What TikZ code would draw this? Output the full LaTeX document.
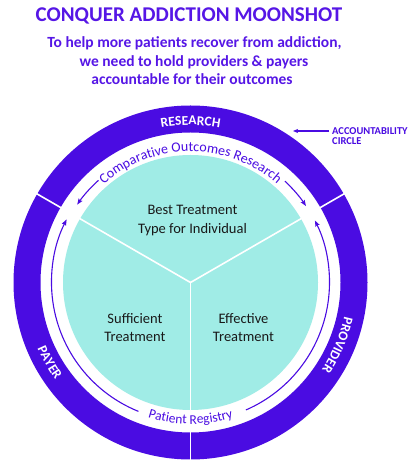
\documentclass[tikz,border=0pt]{standalone}
\usepackage{fontspec}
\setmainfont{Carlito}
\usetikzlibrary{decorations.text,arrows.meta}
\definecolor{ringc}{RGB}{74,12,226}
\definecolor{titlec}{RGB}{86,22,230}
\definecolor{tealc}{RGB}{160,236,230}
\definecolor{darktext}{RGB}{25,25,25}
\begin{document}
\begin{tikzpicture}[x=1pt,y=1pt,
  titletext/.style={text=titlec, font=\bfseries\fontsize{21}{24}\selectfont, inner sep=0pt, anchor=base},
  subtext/.style={text=titlec, font=\bfseries\fontsize{15.5}{18}\selectfont, inner sep=0pt, anchor=base},
  centertext/.style={text=darktext, font=\fontsize{14.5}{18}\selectfont, inner sep=0pt, anchor=base},
  acctext/.style={text=ringc, font=\bfseries\fontsize{10.5}{12}\selectfont, inner sep=1pt, anchor=west},
  divider/.style={draw=white, line width=1.6pt},
  thinarc/.style={draw=ringc, line width=1.1pt, -{Stealth[length=6pt,width=4.5pt,inset=1pt]}},
  ringlabel/.style={decorate, decoration={text along path, text align=center, text color=white}},
  arclabel/.style={decorate, decoration={text along path, text align=center, text color=ringc}}
]
\useasboundingbox (0,0) rectangle (415,466);
\fill[white] (0,0) rectangle (415,466);

% title
\node[titletext] (title) at (189,444.2) {CONQUER ADDICTION MOONSHOT};
\node[subtext] (sub1) at (194.5,418.3) {To help more patients recover from addiction,};
\node[subtext] (sub2) at (194,399.3) {we need to hold providers \& payers};
\node[subtext] (sub3) at (192,381) {accountable for their outcomes};

% accountability label
\node[acctext] (acc1) at (331,335) {ACCOUNTABILITY};
\node[acctext] (acc2) at (331,325) {CIRCLE};
\coordinate (acctip) at (293,335);
\draw[ringc, line width=1.1pt, shorten <=2pt, -{Stealth[length=5pt,width=4pt,inset=1pt]}] (acc1.west) -- (acctip);

\begin{scope}[shift={(190.5,183.5)}]
  % outer ring
  \fill[ringc, even odd rule] (0,0) circle[radius=177] (0,0) circle[radius=150];
  \foreach \a in {30,150,270} \draw[divider] (\a:148) -- (\a:179);
  % teal disc
  \fill[tealc] (0,0) circle[radius=127.5];
  \foreach \a in {30,150,270} \draw[divider] (0,0) -- (\a:128.5);

  % thin arcs with arrows
  \draw[thinarc] (132:137.5) arc[start angle=132, end angle=145.5, radius=137.5];
  \draw[thinarc] (47:138.5) arc[start angle=47, end angle=33.5, radius=138.5];
  \draw[thinarc] (248:139) arc[start angle=248, end angle=153, radius=139];
  \draw[thinarc] (-66.5:139) arc[start angle=-66.5, end angle=26.5, radius=139];

  % curved labels
  \path[ringlabel, decoration={text={|\bfseries\fontsize{13.5}{16}\selectfont|RESEARCH}}]
    (170:157.5) arc[start angle=170, end angle=10, radius=157.5];
  \path[ringlabel, decoration={text={|\bfseries\fontsize{13.5}{16}\selectfont|PROVIDER}}]
    (27:157.5) arc[start angle=27, end angle=-73, radius=157.5];
  \path[ringlabel, decoration={text={|\bfseries\fontsize{13.5}{16}\selectfont|PAYER}}]
    (159.5:166.5) arc[start angle=159.5, end angle=259.5, radius=166.5];
  \path[arclabel, decoration={text={|\fontsize{14}{16}\selectfont|Comparative Outcomes Research}}]
    (170:131) arc[start angle=170, end angle=10, radius=131];
  \path[arclabel, decoration={text={|\fontsize{13.5}{16}\selectfont|Patient Registry}}]
    (200:141.5) arc[start angle=200, end angle=340, radius=141.5];
\end{scope}

% centre texts
\node[centertext] (best1) at (192.5,251) {Best Treatment};
\node[centertext] (best2) at (192.5,232.5) {Type for Individual};
\node[centertext] (suf1) at (135,142.7) {Sufficient};
\node[centertext] (suf2) at (135,124.3) {Treatment};
\node[centertext] (eff1) at (243.5,142.7) {Effective};
\node[centertext] (eff2) at (243.5,124.3) {Treatment};
\end{tikzpicture}
\end{document}
